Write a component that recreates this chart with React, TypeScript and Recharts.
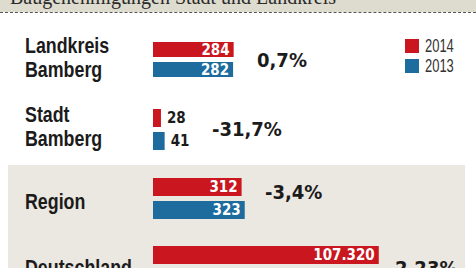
import { Bar, BarChart, LabelList, Legend, XAxis, YAxis } from 'recharts';

const regions = ['Landkreis Bamberg', 'Stadt Bamberg', 'Region', 'Deutschland'];
const labelLines = [['Landkreis', 'Bamberg'], ['Stadt', 'Bamberg'], ['Region'], ['Deutschland']];
const permits2014 = [284, 28, 312, 107320];
const permits2013 = [282, 41, 323, 104980];
const changes = ['0,7%', '-31,7%', '-3,4%', '2,23%'];
const seriesNames = ['2014', '2013'];

const RED = '#c9161f';
const BLUE = '#1d6c9d';
const INK = '#1b1b1b';
const COND = '"DejaVu Sans Condensed", "DejaVu Sans", sans-serif';
const SANS = '"Liberation Sans", Arial, sans-serif';

// layout per row: chart top, chart height, bar thickness, axis max, label/percent placement
const rows = [
  { top: 39, height: 40, barSize: 15, max: 1000, inside: true, textTop: 34, pctLeft: 257, pctTop: 50 },
  { top: 107, height: 45, barSize: 18, max: 1000, inside: false, textTop: 103, pctLeft: 212, pctTop: 119 },
  { top: 176, height: 45, barSize: 18, max: 1000, inside: true, textTop: 190, pctLeft: 265, pctTop: 182 },
  { top: 244, height: 45, barSize: 18, max: 135000, inside: true, textTop: 256, pctLeft: 395, pctTop: 258 },
];

const CHART_W = 323;
const PLOT_W = 284;

const fmt = (v: number) => String(v).replace(/\B(?=(\d{3})+(?!\d))/g, '.');

function LegendBox({ payload }: { payload?: Array<{ value: string; color: string }> }) {
  const items = seriesNames
    .map((n) => (payload || []).find((p) => p.value === n))
    .filter(Boolean) as Array<{ value: string; color: string }>;
  return (
    <div>
      {items.map((p) => (
        <div key={p.value} style={{ display: 'flex', alignItems: 'center', height: 20 }}>
          <span style={{ width: 14, height: 14, background: p.color, display: 'inline-block', flex: 'none' }} />
          <span
            style={{
              marginLeft: 6,
              fontFamily: SANS,
              fontSize: 18,
              color: '#333',
              lineHeight: '20px',
              display: 'inline-block',
              transform: 'scaleX(0.72)',
              transformOrigin: 'left center',
            }}
          >
            {p.value}
          </span>
        </div>
      ))}
    </div>
  );
}

function Row({ i }: { i: number }) {
  const r = rows[i];
  const data = [{ name: regions[i], a: permits2014[i], b: permits2013[i] }];
  const labelProps = r.inside
    ? { position: 'insideRight' as const, offset: 4, fill: '#fff' }
    : { position: 'right' as const, offset: 6, fill: INK };
  const labelStyle = { fontFamily: COND, fontWeight: 700, fontSize: 15 };
  return (
    <div style={{ position: 'absolute', left: 153, top: r.top }}>
      <BarChart
        width={CHART_W}
        height={r.height}
        layout="vertical"
        data={data}
        margin={{ top: 0, right: CHART_W - PLOT_W, bottom: 0, left: 0 }}
        barGap={5}
        barCategoryGap={0}
      >
        <XAxis type="number" domain={[0, r.max]} hide />
        <YAxis type="category" dataKey="name" hide />
        {i === 0 && (
          <Legend
            layout="vertical"
            align="center"
            verticalAlign="middle"
            wrapperStyle={{ position: 'absolute', left: 252, top: -3, width: 70 }}
            content={(props: any) => <LegendBox payload={props.payload} />}
          />
        )}
        <Bar dataKey="a" name={seriesNames[0]} fill={RED} barSize={r.barSize} isAnimationActive={false}>
          <LabelList dataKey="a" {...labelProps} formatter={(v: any) => fmt(Number(v))} style={labelStyle} />
        </Bar>
        <Bar dataKey="b" name={seriesNames[1]} fill={BLUE} barSize={r.barSize} isAnimationActive={false}>
          <LabelList dataKey="b" {...labelProps} formatter={(v: any) => fmt(Number(v))} style={labelStyle} />
        </Bar>
      </BarChart>
    </div>
  );
}

export default function App() {
  return (
    <div
      style={{
        position: 'absolute',
        left: 0,
        top: 0,
        width: 476,
        height: 268,
        overflow: 'hidden',
        background: '#fff',
        fontFamily: SANS,
        color: INK,
      }}
    >
      <div style={{ position: 'absolute', left: 0, top: 0, width: 476, height: 12, background: '#dedccf' }} />
      <div style={{ position: 'absolute', left: 0, top: 12, width: 476, borderTop: '1px dashed #555' }} />
      <div
        style={{
          position: 'absolute',
          left: 10,
          top: -13,
          fontFamily: '"Liberation Serif", serif',
          fontSize: 20,
          lineHeight: '20px',
          color: '#2a2a2a',
          whiteSpace: 'nowrap',
        }}
      >
        Baugenehmigungen Stadt und Landkreis
      </div>
      <div style={{ position: 'absolute', left: 8, top: 165, width: 457, height: 110, background: '#ebe7e1' }} />

      {rows.map((r, i) => (
        <div key={regions[i]}>
          <div
            style={{
              position: 'absolute',
              left: 25,
              top: r.textTop,
              fontSize: 22,
              lineHeight: '24px',
              fontWeight: 700,
              whiteSpace: 'nowrap',
              transform: 'scaleX(0.81)',
              transformOrigin: 'left top',
            }}
          >
            {labelLines[i].map((l) => (
              <div key={l}>{l}</div>
            ))}
          </div>
          <div
            style={{
              position: 'absolute',
              left: r.pctLeft,
              top: r.pctTop,
              fontFamily: COND,
              fontSize: 20,
              lineHeight: '20px',
              fontWeight: 700,
              whiteSpace: 'nowrap',
            }}
          >
            {changes[i]}
          </div>
          <Row i={i} />
        </div>
      ))}
    </div>
  );
}
